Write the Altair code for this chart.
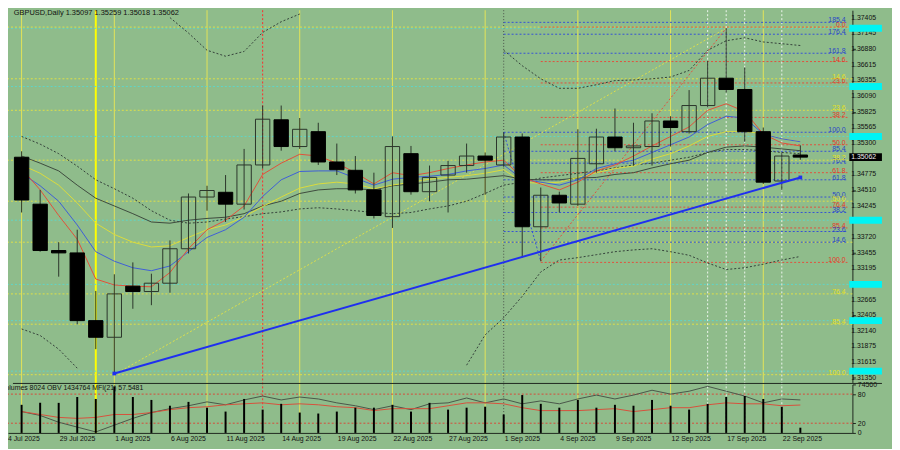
import altair as alt
import pandas as pd

BG = "#8fbc8b"
FONT = "Liberation Sans"
DARK = "#1f281f"
CANDLE = "#2b352b"

symbol_title = "GBPUSD,Daily  1.35097 1.35259 1.35018 1.35062"
panel_title = "Volumes 8024  OBV 1434764  MFI(21) 57.5481"

dates = ["25 Jul", "28 Jul", "29 Jul", "30 Jul", "31 Jul", "1 Aug", "4 Aug", "5 Aug", "6 Aug", "7 Aug",
         "8 Aug", "11 Aug", "12 Aug", "13 Aug", "14 Aug", "15 Aug", "18 Aug", "19 Aug", "20 Aug", "21 Aug",
         "22 Aug", "25 Aug", "26 Aug", "27 Aug", "28 Aug", "29 Aug", "1 Sep", "2 Sep", "3 Sep", "4 Sep",
         "5 Sep", "8 Sep", "9 Sep", "10 Sep", "11 Sep", "12 Sep", "15 Sep", "16 Sep", "17 Sep", "18 Sep",
         "19 Sep", "22 Sep", "23 Sep"]
opens = [1.3506, 1.3427, 1.3349, 1.3345, 1.3231, 1.3203, 1.3289, 1.3280, 1.3294, 1.3352,
         1.3439, 1.3447, 1.3427, 1.3493, 1.3569, 1.3524, 1.3549, 1.3498, 1.3484, 1.3451,
         1.3406, 1.3512, 1.3448, 1.3476, 1.3492, 1.3508, 1.3493, 1.3540, 1.3389, 1.3442,
         1.3427, 1.3495, 1.3540, 1.3522, 1.3524, 1.3567, 1.3549, 1.3593, 1.3639, 1.3620,
         1.3549, 1.3466, 1.35097]
highs = [1.3516, 1.3451, 1.3363, 1.3384, 1.3281, 1.3309, 1.3329, 1.3310, 1.3366, 1.3445,
         1.3458, 1.3476, 1.3520, 1.3593, 1.3593, 1.3572, 1.3564, 1.3529, 1.3508, 1.3480,
         1.3541, 1.3525, 1.3492, 1.3500, 1.3529, 1.3514, 1.3548, 1.3546, 1.3455, 1.3448,
         1.3553, 1.3554, 1.3588, 1.3564, 1.3580, 1.3575, 1.3619, 1.3668, 1.3723, 1.3657,
         1.3556, 1.3514, 1.35259]
lows = [1.3413, 1.3347, 1.3305, 1.3225, 1.3183, 1.3140, 1.3251, 1.3257, 1.3278, 1.3344,
        1.3416, 1.3397, 1.3418, 1.3487, 1.3517, 1.3520, 1.3493, 1.3476, 1.3445, 1.3403,
        1.3387, 1.3443, 1.3432, 1.3413, 1.3480, 1.3443, 1.3490, 1.3337, 1.3331, 1.3413,
        1.3424, 1.3480, 1.3516, 1.3492, 1.3492, 1.3524, 1.3546, 1.3590, 1.3615, 1.3532,
        1.3461, 1.3451, 1.35018]
closes = [1.3434, 1.3349, 1.3345, 1.3231, 1.3203, 1.3276, 1.3280, 1.3294, 1.3352, 1.3439,
          1.3450, 1.3427, 1.3493, 1.3570, 1.3524, 1.3553, 1.3498, 1.3485, 1.3451, 1.3408,
          1.3524, 1.3448, 1.3472, 1.3492, 1.3508, 1.3501, 1.3540, 1.3389, 1.3442, 1.3429,
          1.3504, 1.3540, 1.3522, 1.3525, 1.3567, 1.3556, 1.3593, 1.3639, 1.3620, 1.3549,
          1.3464, 1.3508, 1.35062]

ma_red = [1.3487, 1.3451, 1.3408, 1.3368, 1.3301, 1.3291, 1.3289, 1.3288, 1.3312, 1.3352,
          1.3384, 1.3400, 1.3424, 1.3477, 1.3496, 1.3511, 1.3508, 1.3496, 1.3480, 1.3461,
          1.3480, 1.3475, 1.3480, 1.3487, 1.3493, 1.3498, 1.3501, 1.3472, 1.3461, 1.3451,
          1.3464, 1.3483, 1.3493, 1.3508, 1.3525, 1.3541, 1.3557, 1.3585, 1.3596, 1.3583,
          1.3545, 1.3530, 1.3525]
ma_blue = [1.3479, 1.3458, 1.3432, 1.3392, 1.3347, 1.3331, 1.3320, 1.3315, 1.3323, 1.3347,
           1.3371, 1.3384, 1.3405, 1.3440, 1.3468, 1.3482, 1.3483, 1.3483, 1.3471, 1.3459,
           1.3469, 1.3472, 1.3474, 1.3477, 1.3483, 1.3487, 1.3493, 1.3469, 1.3464, 1.3459,
           1.3468, 1.3487, 1.3495, 1.3501, 1.3514, 1.3527, 1.3540, 1.3561, 1.3575, 1.3572,
           1.3545, 1.3537, 1.3532]
ma_yellow = [1.3493, 1.3479, 1.3459, 1.3429, 1.3395, 1.3376, 1.3363, 1.3355, 1.3357, 1.3371,
             1.3384, 1.3392, 1.3406, 1.3423, 1.3439, 1.3454, 1.3461, 1.3464, 1.3461, 1.3453,
             1.3459, 1.3464, 1.3469, 1.3472, 1.3475, 1.3479, 1.3485, 1.3464, 1.3462, 1.3464,
             1.3472, 1.3480, 1.3487, 1.3491, 1.3503, 1.3512, 1.3525, 1.3541, 1.3549, 1.3549,
             1.3546, 1.3537, 1.3532]
ma_gray = [1.3508, 1.3496, 1.3483, 1.3459, 1.3437, 1.3424, 1.3411, 1.3397, 1.3395, 1.3400,
           1.3403, 1.3405, 1.3411, 1.3424, 1.3432, 1.3445, 1.3451, 1.3453, 1.3453, 1.3451,
           1.3458, 1.3461, 1.3464, 1.3468, 1.3469, 1.3472, 1.3475, 1.3469, 1.3468, 1.3468,
           1.3471, 1.3472, 1.3477, 1.3480, 1.3488, 1.3495, 1.3501, 1.3514, 1.3523, 1.3525,
           1.3523, 1.3520, 1.3517]
ma_slow = [1.3541, 1.3528, 1.3512, 1.3491, 1.3468, 1.3453, 1.3437, 1.3416, 1.3400, 1.3395,
           1.3397, 1.3402, 1.3406, 1.3411, 1.3414, 1.3419, 1.3421, 1.3419, 1.3416, 1.3413,
           1.3411, 1.3413, 1.3419, 1.3424, 1.3432, 1.3445, 1.3459, 1.3464, 1.3471, 1.3475,
           1.3479, 1.3483, 1.3488, 1.3493, 1.3496, 1.3501, 1.3506, 1.3514, 1.3519, 1.3519,
           1.3517, 1.3514, 1.3512]

bb_up_a_idx = [8, 9, 10, 11, 12, 13, 14, 15]
bb_up_a = [1.3741, 1.3715, 1.3686, 1.3676, 1.3684, 1.3716, 1.3734, 1.3747]
bb_up_b_idx = list(range(26, 43))
bb_up_b = [1.3686, 1.3660, 1.3638, 1.3622, 1.3622, 1.3628, 1.3635, 1.3636, 1.3638, 1.3641,
           1.3652, 1.3686, 1.3702, 1.3707, 1.3700, 1.3697, 1.3694]
bb_lo_a_idx = [0, 1, 2, 3]
bb_lo_a = [1.3217, 1.3206, 1.3183, 1.3151]
bb_lo_b_idx = list(range(24, 43))
bb_lo_b = [1.3156, 1.3207, 1.3236, 1.3272, 1.3313, 1.3333, 1.3337, 1.3342, 1.3347, 1.3350,
           1.3352, 1.3347, 1.3341, 1.3328, 1.3317, 1.3320, 1.3326, 1.3333, 1.3339]

volume = [43200, 46200, 46200, 55200, 52200, 71600, 55200, 50700, 41800, 47700,
          38800, 32800, 52200, 35800, 44700, 31300, 29800, 32800, 38800, 38800,
          43200, 32800, 46200, 35800, 38800, 40300, 28300, 58200, 44700, 38800,
          50700, 38800, 43200, 41800, 50700, 41800, 35800, 44700, 55200, 56700,
          52200, 40300, 8024]
mfi = [44, 38, 32, 30, 32, 38, 38, 42, 48, 52, 54, 58, 60, 62, 58, 60, 58, 54, 52, 46,
       50, 50, 50, 56, 62, 62, 60, 52, 46, 46, 46, 48, 50, 44, 48, 52, 52, 58, 62, 60,
       60, 56, 57.5]
obv_line = [44, 36, 22, 12, 2, 16, 30, 42, 50, 56, 64, 58, 68, 76, 68, 74, 70, 62, 56, 48,
            56, 48, 60, 62, 72, 62, 70, 60, 66, 60, 70, 78, 70, 78, 88, 80, 86, 96, 86, 76,
            62, 70, 68]

red_fib_levels = ["0.0", "14.6", "23.6", "38.2", "50.0", "61.8", "76.4", "85.4", "100.0"]
red_fib_prices = [1.3725, 1.3667, 1.3631, 1.3573, 1.3527, 1.3480, 1.3422, 1.3387, 1.3329]
red_fib_start = 28
blue_fib_levels = ["185.4", "176.4", "161.8", "100.0", "85.4", "76.4", "61.8", "50.0", "38.2", "23.6", "14.6"]
blue_fib_prices = [1.3733, 1.3713, 1.3681, 1.3548, 1.3516, 1.3496, 1.3468, 1.3439, 1.3413, 1.3381, 1.3363]
blue_fib_start = 26
yellow_fib_prices = [1.3725, 1.3638, 1.3585, 1.3501, 1.3432, 1.3363, 1.3276, 1.3225, 1.3140]
yellow_label_levels = ["14.6", "23.6", "38.2", "50.0", "76.4", "85.4", "100.0"]
yellow_label_prices = [1.3638, 1.3585, 1.3501, 1.3432, 1.3276, 1.3225, 1.3140]
cyan_prices = [1.3723, 1.3625, 1.3541, 1.3400, 1.3292, 1.3231, 1.3146]
last_price = 1.35062

trend_idx = [5, 42]
trend_prices = [1.3142, 1.3472]
diag_yellow = ([5, 38], [1.3140, 1.3723])
diag_red = ([28, 38], [1.3331, 1.3723])
diag_blue = ([26, 28], [1.3548, 1.3331])

price_ticks = [1.37405, 1.37145, 1.36880, 1.36615, 1.36355, 1.36090, 1.35825, 1.35565, 1.35300,
               1.34775, 1.34510, 1.34245, 1.33985, 1.33720, 1.33455, 1.33195, 1.32930, 1.32665,
               1.32405, 1.32140, 1.31875, 1.31615, 1.31350]
tick_idx = [-1, 2, 5, 8, 11, 14, 17, 20, 23, 26, 29, 32, 35, 38, 41]
tick_text = ["24 Jul 2025", "29 Jul 2025", "1 Aug 2025", "6 Aug 2025", "11 Aug 2025", "14 Aug 2025",
             "19 Aug 2025", "22 Aug 2025", "27 Aug 2025", "1 Sep 2025", "4 Sep 2025", "9 Sep 2025",
             "12 Sep 2025", "17 Sep 2025", "22 Sep 2025"]

vl_yellow = [0, 5, 10, 15, 20, 25, 30, 35, 40]
vl_bright = [4]
vl_red = [13]
vl_gray = [26]
vl_white = [37, 38, 39, 41]

# ---------------- layout ----------------
W, H, MAIN_H = 853, 427, 376
X_DOM = [-0.467, 44.54]
P_DOM = [1.31270, 1.37534]
X_AX0, X_AX1 = 44.64, 46.4
X_LAB = 44.44

xs = alt.Scale(domain=X_DOM, nice=False, zero=False)
ps = alt.Scale(domain=P_DOM, range=[MAIN_H, 0], nice=False, zero=False)
ms = alt.Scale(domain=[0, 100], range=[H, MAIN_H + 2], nice=False, zero=False)
vs = alt.Scale(domain=[0, 74560], range=[H, MAIN_H + 2], nice=False, zero=False)

x_axis = alt.Axis(labels=False, ticks=False, grid=False, domain=True, domainColor=DARK, title=None)
p_axis = alt.Axis(orient="right", values=price_ticks, labels=False, tickSize=3, tickColor=DARK,
                  domainColor=DARK, grid=False, title=None)
m_axis = alt.Axis(orient="right", values=[100, 80, 20, 0], labelFont=FONT, labelFontSize=7,
                  labelExpr="datum.value == 100 ? '74560' : datum.label",
                  labelColor="#111111", tickSize=3, tickColor=DARK, domainColor=DARK, grid=False,
                  title=None, labelPadding=2, labelOverlap=False, labelFlush=False)


def X(f):
    return alt.X(f, type="quantitative", scale=xs, axis=x_axis)


def PY(f):
    return alt.Y(f, type="quantitative", scale=ps, axis=p_axis)


def MY(f):
    return alt.Y(f, type="quantitative", scale=ms, axis=m_axis)


n = len(closes)
bars = pd.DataFrame({"i": list(range(n)), "date": dates, "o": opens, "h": highs, "l": lows,
                     "c": closes, "vol": volume, "mfi": mfi, "obv": obv_line})

main_layers = []

# vertical separators
for lst, col, dash, sw in [(vl_yellow, "#e4e458", None, 1), (vl_bright, "#ffff00", None, 2),
                           (vl_red, "#ff2a2a", [2, 2], 1), (vl_gray, "#4a524a", [1, 2], 1),
                           (vl_white, "#eef6ee", [2, 2], 1)]:
    kw = dict(color=col, strokeWidth=sw)
    if dash:
        kw["strokeDash"] = dash
    main_layers.append(alt.Chart(pd.DataFrame({"v": lst})).mark_rule(**kw).encode(x=X("v")))

# cyan horizontal lines
main_layers.append(alt.Chart(pd.DataFrame({"p": cyan_prices})).mark_rule(
    color="#5fd6c8", strokeDash=[2, 2], strokeWidth=1).encode(y=PY("p")))
# yellow fib (full width)
main_layers.append(alt.Chart(pd.DataFrame({"p": yellow_fib_prices})).mark_rule(
    color="#e0e048", strokeDash=[2, 2], strokeWidth=1).encode(y=PY("p")))
# red fib
main_layers.append(alt.Chart(pd.DataFrame({"p": red_fib_prices})).mark_rule(
    color="#e2503e", strokeDash=[2, 2], strokeWidth=1).encode(
    x=alt.datum(red_fib_start), x2=alt.datum(X_DOM[1]), y=PY("p")))
# blue fib
main_layers.append(alt.Chart(pd.DataFrame({"p": blue_fib_prices})).mark_rule(
    color="#3652d6", strokeDash=[2, 2], strokeWidth=1).encode(
    x=alt.datum(blue_fib_start), x2=alt.datum(X_DOM[1]), y=PY("p")))

# diagonals
for (di, dp), col in [(diag_yellow, "#e0e048"), (diag_red, "#e2503e"), (diag_blue, "#3652d6")]:
    main_layers.append(alt.Chart(pd.DataFrame({"i": di, "p": dp})).mark_line(
        color=col, strokeDash=[2, 2], strokeWidth=1, clip=True).encode(x=X("i"), y=PY("p")))

# dotted slow MA and Bollinger bands
dotted = pd.concat([
    pd.DataFrame({"i": list(range(n)), "p": ma_slow, "seg": "slow"}),
    pd.DataFrame({"i": bb_up_a_idx, "p": bb_up_a, "seg": "up_a"}),
    pd.DataFrame({"i": bb_up_b_idx, "p": bb_up_b, "seg": "up_b"}),
    pd.DataFrame({"i": bb_lo_a_idx, "p": bb_lo_a, "seg": "lo_a"}),
    pd.DataFrame({"i": bb_lo_b_idx, "p": bb_lo_b, "seg": "lo_b"}),
])
main_layers.append(alt.Chart(dotted).mark_line(
    color="#34403a", strokeDash=[2, 2], strokeWidth=1, clip=True).encode(
    x=X("i"), y=PY("p"), detail="seg:N"))

# moving averages
for vals, col in [(ma_gray, "#3e4a3e"), (ma_yellow, "#dcdc3c"), (ma_blue, "#3f5ed8"), (ma_red, "#e2503a")]:
    main_layers.append(alt.Chart(pd.DataFrame({"i": list(range(n)), "p": vals})).mark_line(
        color=col, strokeWidth=1, clip=True).encode(x=X("i"), y=PY("p")))

# candles
bear = "datum.c < datum.o"
main_layers.append(alt.Chart(bars).mark_rule(color=CANDLE, strokeWidth=1).encode(
    x=X("i"), y=PY("l"), y2="h"))
main_layers.append(alt.Chart(bars).mark_bar(size=14.5, strokeWidth=1).encode(
    x=X("i"), y=PY("o"), y2="c",
    fill=alt.condition(bear, alt.value("#000000"), alt.value("transparent")),
    stroke=alt.condition(bear, alt.value("#000000"), alt.value(CANDLE))))

# trend line
tr = pd.DataFrame({"i": trend_idx, "p": trend_prices})
main_layers.append(alt.Chart(tr).mark_line(color="#1f2ff0", strokeWidth=2).encode(x=X("i"), y=PY("p")))
main_layers.append(alt.Chart(tr).mark_square(color="#1f2ff0", size=14, opacity=1).encode(x=X("i"), y=PY("p")))

# fib labels
for levs, prs, col in [(red_fib_levels, red_fib_prices, "#e43a2a"),
                       (blue_fib_levels, blue_fib_prices, "#2a46c8"),
                       (yellow_label_levels, yellow_label_prices, "#e6e020")]:
    main_layers.append(alt.Chart(pd.DataFrame({"p": prs, "lab": levs})).mark_text(
        align="right", baseline="middle", dy=-2, font=FONT, fontSize=7, color=col).encode(
        x=alt.datum(X_LAB), y=PY("p"), text="lab:N"))

# price scale labels
main_layers.append(alt.Chart(pd.DataFrame({"p": price_ticks})).mark_text(
    align="left", baseline="middle", font=FONT, fontSize=7, color="#111111", clip=False).encode(
    x=alt.datum(X_AX0 + 0.1), y=PY("p"), text=alt.Text("p:Q", format=".5f")))

# price-line tags on the axis
main_layers.append(alt.Chart(pd.DataFrame({"p": cyan_prices})).mark_rule(
    color="#00f4f4", strokeWidth=7, clip=False).encode(
    x=alt.datum(X_AX0), x2=alt.datum(X_AX1), y=PY("p")))
main_layers.append(alt.Chart(pd.DataFrame({"p": [last_price]})).mark_rule(
    color="#000000", strokeWidth=8, clip=False).encode(
    x=alt.datum(X_AX0), x2=alt.datum(X_AX1), y=PY("p")))
main_layers.append(alt.Chart(pd.DataFrame({"p": [last_price], "t": [f"{last_price:.5f}"]})).mark_text(
    align="left", baseline="middle", font=FONT, fontSize=7, color="#f0f0f0", clip=False).encode(
    x=alt.datum(X_AX0 + 0.1), y=PY("p"), text="t:N"))

# title
main_layers.append(alt.Chart(pd.DataFrame({"t": [symbol_title]})).mark_text(
    align="left", baseline="middle", font=FONT, fontSize=7.5, color="#111111").encode(
    x=alt.datum(-0.42), y=alt.datum(1.37484), text="t:N"))

main = alt.layer(*main_layers)

# ---------------- indicator panel ----------------
panel_layers = [
    alt.Chart(pd.DataFrame({"lv": [80, 20]})).mark_rule(
        color="#d84a3a", strokeDash=[2, 2], strokeWidth=1).encode(y=MY("lv")),
    alt.Chart(bars).mark_line(color="#4a564a", strokeWidth=1).encode(x=X("i"), y=MY("obv")),
    alt.Chart(bars).mark_line(color="#d8503c", strokeWidth=1).encode(x=X("i"), y=MY("mfi")),
    alt.Chart(pd.DataFrame({"ti": tick_idx, "t": tick_text})).mark_text(
        align="left", baseline="top", dx=1, font=FONT, fontSize=7, color="#111111", clip=False).encode(
        x=X("ti"), y=alt.datum(-4), text="t:N"),
    alt.Chart(pd.DataFrame({"t": [panel_title]})).mark_text(
        align="left", baseline="middle", font=FONT, fontSize=7, color="#111111").encode(
        x=alt.datum(-1.1), y=alt.datum(92), text="t:N"),
    alt.Chart(pd.DataFrame({"t": [0]})).mark_rule(color=DARK, strokeWidth=1, clip=False).encode(
        x=alt.datum(X_DOM[0]), x2=alt.datum(X_AX1), y=alt.datum(102)),
]
panel = alt.layer(*panel_layers)

vol_layer = alt.Chart(bars).mark_bar(size=2, color="#000000").encode(
    x=X("i"), y=alt.Y("vol", type="quantitative", scale=vs, axis=None))

chart = alt.layer(main, panel, vol_layer).resolve_scale(y="independent").properties(
    width=W, height=H,
    padding={"left": 0, "top": 0, "right": 40, "bottom": 14},
    autosize=alt.AutoSizeParams(type="none"),
    background=BG,
).configure_view(stroke=None, fill=BG)

chart.save("out.html", embed_options={"renderer": "svg", "actions": False})
